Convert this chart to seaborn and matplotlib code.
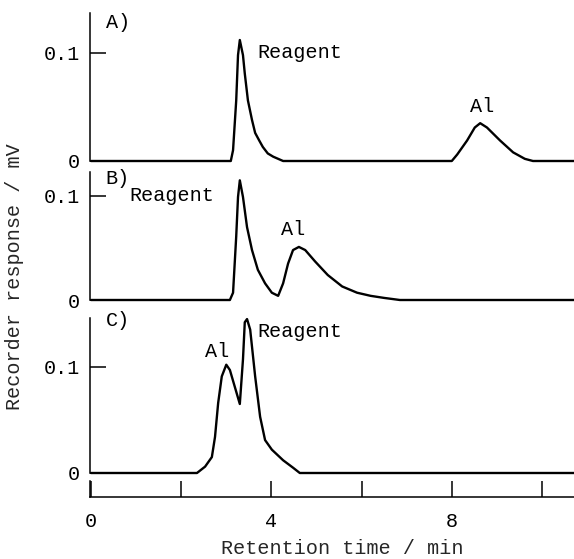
import matplotlib
matplotlib.use("Agg")
import matplotlib.pyplot as plt
import seaborn as sns
import pandas as pd

# ---- data ----
time_a = [0.0, 3.10, 3.15, 3.22, 3.26, 3.30, 3.37, 3.41, 3.48, 3.57, 3.64, 3.73, 3.81,
          3.92, 4.04, 4.26, 8.00, 8.12, 8.34, 8.51, 8.63, 8.78, 9.07, 9.36, 9.62,
          9.80, 10.71]
resp_a = [0.0, 0.0, 0.010, 0.056, 0.098, 0.112, 0.098, 0.081, 0.056, 0.038, 0.026, 0.019,
          0.013, 0.007, 0.004, 0.0, 0.0, 0.006, 0.019, 0.031, 0.035, 0.031, 0.019, 0.008,
          0.002, 0.0, 0.0]

time_b = [0.0, 3.08, 3.15, 3.22, 3.26, 3.30, 3.37, 3.46, 3.57, 3.70, 3.86, 4.01, 4.15,
          4.26, 4.37, 4.48, 4.61, 4.75, 4.97, 5.25, 5.57, 5.90, 6.20, 6.50, 6.85, 10.71]
resp_b = [0.0, 0.0, 0.007, 0.061, 0.099, 0.115, 0.099, 0.070, 0.048, 0.029, 0.016, 0.007,
          0.004, 0.016, 0.035, 0.048, 0.051, 0.048, 0.037, 0.024, 0.013, 0.007, 0.004,
          0.002, 0.0, 0.0]

time_c = [0.0, 2.35, 2.53, 2.68, 2.75, 2.82, 2.90, 3.00, 3.08, 3.19, 3.30, 3.37, 3.41,
          3.46, 3.53, 3.64, 3.75, 3.86, 4.01, 4.26, 4.48, 4.63, 10.71]
resp_c = [0.0, 0.0, 0.006, 0.015, 0.034, 0.066, 0.091, 0.102, 0.097, 0.081, 0.065, 0.107,
          0.142, 0.145, 0.135, 0.091, 0.053, 0.031, 0.022, 0.012, 0.005, 0.0, 0.0]

panel_names = ["A)", "B)", "C)"]
y_ticks = [0, 0.1]
y_tick_labels = ["0", "0.1"]
x_ticks = [0, 2, 4, 6, 8, 10]
x_tick_labels = ["0", "", "4", "", "8", ""]
y_label = "Recorder response / mV"
x_label = "Retention time / min"

# ---- style ----
sns.set_style("ticks")
plt.rcParams["font.family"] = ["Liberation Mono", "DejaVu Sans Mono"]
FS = 14.5

W, H = 574, 559
fig = plt.figure(figsize=(W / 100, H / 100), dpi=100)

def fy(px):
    return 1 - px / H

left = 90 / W
width = (W - 90) / W
xlim = (-0.022, 10.71)

# (top px, bottom px, ymax)
panels = [(13, 161, 0.137), (172, 300, 0.123), (318, 473, 0.146)]
series = [(time_a, resp_a), (time_b, resp_b), (time_c, resp_c)]

# text annotations: (x, y, text, ha)
notes = [
    [(0.33, 0.128, panel_names[0], "left"), (3.70, 0.100, "Reagent", "left"),
     (8.67, 0.050, "Al", "center")],
    [(0.33, 0.117, panel_names[1], "left"), (0.86, 0.100, "Reagent", "left"),
     (4.48, 0.068, "Al", "center")],
    [(0.33, 0.144, panel_names[2], "left"), (3.68, 0.133, "Reagent", "left"),
     (2.80, 0.114, "Al", "center")],
]

for (top, bot, ymax), (tx, ry), nts in zip(panels, series, notes):
    ax = fig.add_axes([left, fy(bot), width, (bot - top) / H])
    df = pd.DataFrame({"t": tx, "r": ry})
    sns.lineplot(data=df, x="t", y="r", ax=ax, color="black", linewidth=1.7,
                 estimator=None, sort=False)
    for ln in ax.get_lines():
        ln.set_clip_on(False)
        ln.set_solid_joinstyle("round")
    ax.set_xlim(*xlim)
    ax.set_ylim(0, ymax)
    ax.set_xticks([])
    ax.set_yticks(y_ticks)
    ax.set_yticklabels(y_tick_labels, fontsize=FS)
    ax.tick_params(axis="y", direction="in", length=11.5, width=1.1, pad=7, colors="black")
    ax.set_xlabel("")
    ax.set_ylabel("")
    for s in ["top", "right", "bottom"]:
        ax.spines[s].set_visible(False)
    ax.spines["left"].set_linewidth(1.1)
    ax.spines["left"].set_color("black")
    ax.patch.set_alpha(0)
    for (x, y, txt, ha) in nts:
        ax.text(x, y, txt, ha=ha, va="center", fontsize=FS, color="black")

# bottom time axis
axb = fig.add_axes([left, fy(497), width, 16 / H])
axb.set_xlim(*xlim)
axb.set_ylim(0, 1)
axb.set_yticks([])
axb.set_xticks(x_ticks)
axb.set_xticklabels(x_tick_labels, fontsize=FS)
axb.tick_params(axis="x", direction="in", length=11.5, width=1.1, pad=11, colors="black")
for s in ["top", "right"]:
    axb.spines[s].set_visible(False)
for s in ["left", "bottom"]:
    axb.spines[s].set_linewidth(1.1)
    axb.spines[s].set_color("black")
axb.patch.set_alpha(0)

fig.text(15 / W, fy(277), y_label, rotation=90, ha="center", va="center", fontsize=FS)
fig.text(342 / W, fy(548), x_label, ha="center", va="center", fontsize=FS)

fig.savefig("out.png", dpi=100, facecolor="white")
